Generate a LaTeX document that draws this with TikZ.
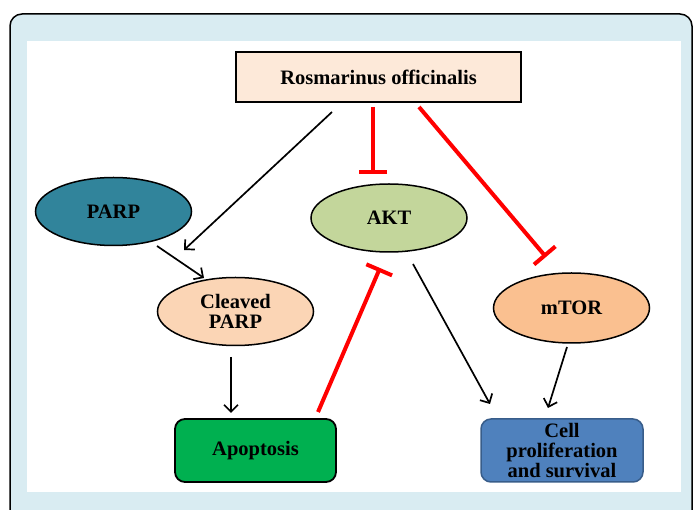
\documentclass[tikz,border=0pt]{standalone}
\usepackage{fontspec}
\setmainfont{Liberation Serif}
\usetikzlibrary{arrows.meta,shapes.geometric}
\definecolor{bgblue}{RGB}{217,236,242}
\definecolor{rosmfill}{RGB}{253,233,217}
\definecolor{parpfill}{RGB}{49,132,155}
\definecolor{cleavfill}{RGB}{251,213,181}
\definecolor{aktfill}{RGB}{195,214,155}
\definecolor{mtorfill}{RGB}{250,192,144}
\definecolor{apofill}{RGB}{0,176,80}
\definecolor{cellfill}{RGB}{79,129,189}
\definecolor{celldraw}{RGB}{56,93,138}
\begin{document}
\begin{tikzpicture}[x=1pt,y=-1pt,
  lbl/.style={font=\bfseries\fontsize{20.5}{20}\selectfont, align=center, text=black},
  ell/.style={lbl, ellipse, draw=black, line width=1.5pt, minimum width=156pt, minimum height=68pt, inner sep=0pt},
  boxnode/.style={lbl, draw=black, line width=1.8pt, inner sep=0pt},
  blk/.style={draw=black, line width=1.7pt, -{Straight Barb[length=7pt,width=14pt,line width=1.7pt]}},
  inh/.style={draw=red, line width=4pt, -{Bar[width=28pt,line width=4pt]}}
]
\useasboundingbox (0,0) rectangle (697,510);
\fill[white] (0,0) rectangle (697,510);
\draw[fill=bgblue, line width=1.5pt, rounded corners=12pt] (10,14) rectangle (692,540);
\fill[white] (27,41) rectangle (681,492);

\node[boxnode, fill=rosmfill, minimum width=285pt, minimum height=50pt] (rosm) at (378.5,77) {Rosmarinus officinalis};
\node[ell, fill=parpfill] (parp) at (113.5,211.5) {PARP};
\node[ell, fill=cleavfill] (cleav) at (235.5,311.5) {Cleaved\\PARP};
\node[ell, fill=aktfill] (akt) at (389,218) {AKT};
\node[ell, fill=mtorfill, minimum height=70pt] (mtor) at (571.5,308) {mTOR};
\node[boxnode, fill=apofill, rounded corners=10pt, minimum width=161pt, minimum height=63pt] (apo) at (255.5,450.5) {Apoptosis};
\node[boxnode, draw=celldraw, line width=1.5pt, fill=cellfill, rounded corners=10pt, minimum width=162pt, minimum height=63pt] (cell) at (562,450.5) {Cell\\proliferation\\and survival};

% free ends of connectors
\coordinate (r1) at (332,112);
\coordinate (r1e) at (184,250);
\coordinate (p1) at (157,246);
\coordinate (p1e) at (204,278);
\coordinate (c1) at (231,357);
\coordinate (c1e) at (231,413);
\coordinate (r2) at (373,107);
\coordinate (r2e) at (373,174);
\coordinate (r3) at (419,107);
\coordinate (r3e) at (546,257);
\coordinate (a1) at (318,412);
\coordinate (a1e) at (380,268);
\coordinate (k1) at (413,264);
\coordinate (k1e) at (490,404);
\coordinate (m1) at (567,347);
\coordinate (m1e) at (548,408);

\draw[blk] (r1) -- (r1e);
\draw[blk] (p1) -- (p1e);
\draw[blk] (c1) -- (c1e);
\draw[inh] (r2) -- (r2e);
\draw[inh] (r3) -- (r3e);
\draw[inh] (a1) -- (a1e);
\draw[blk] (k1) -- (k1e);
\draw[blk] (m1) -- (m1e);
\end{tikzpicture}
\end{document}
